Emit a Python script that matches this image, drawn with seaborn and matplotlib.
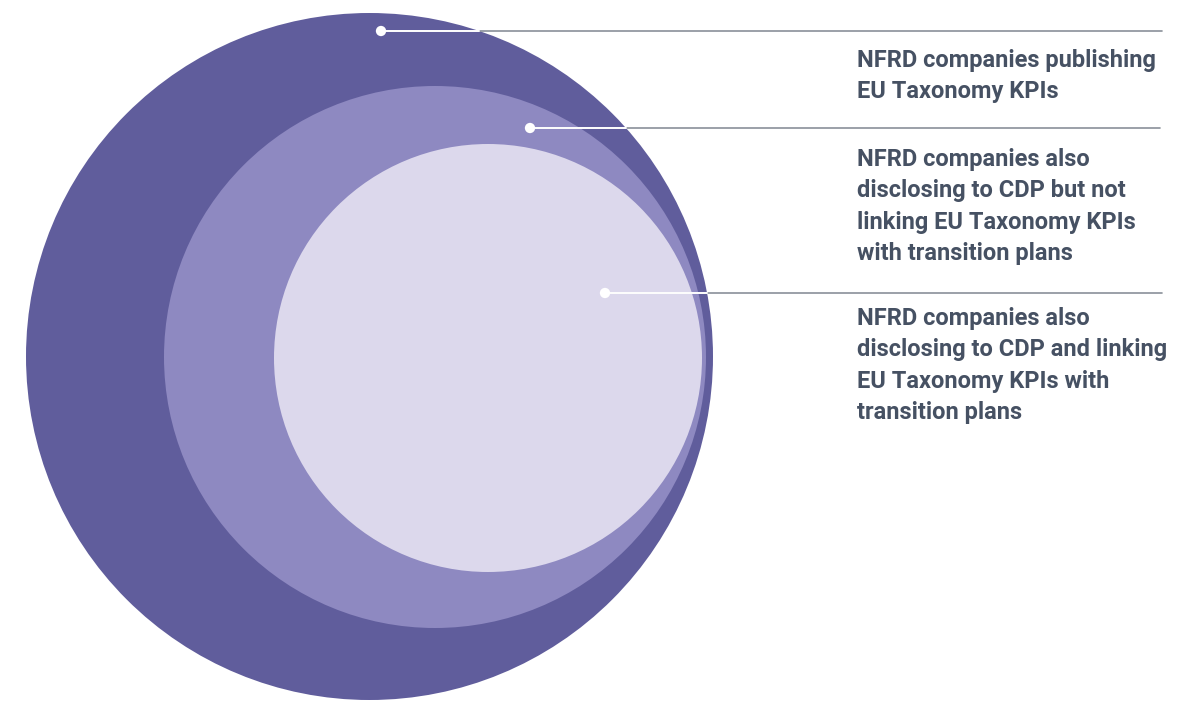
import numpy as np
import pandas as pd
import matplotlib
matplotlib.use("Agg")
import matplotlib.pyplot as plt
import seaborn as sns
from matplotlib.patches import Circle

# nested groups, outermost first
labels = [
    "NFRD companies publishing\nEU Taxonomy KPIs",
    "NFRD companies also\ndisclosing to CDP but not\nlinking EU Taxonomy KPIs\nwith transition plans",
    "NFRD companies also\ndisclosing to CDP and linking\nEU Taxonomy KPIs with\ntransition plans",
]
radii = [343.5, 271, 214]
colors = ["#605d9c", "#8e89c1", "#dcd8ec"]

sns.set_theme(style="white")
plt.rcParams['font.family'] = ['Roboto', 'DejaVu Sans']

fig = plt.figure(figsize=(11.86, 7.01), dpi=100)
ax = fig.add_axes([0, 0, 1, 1])

# circles share the right side, grow to the left
right_edge = 713
right_shift = [0, 7, 11]
cy = [356.5, 357, 358]
centers = []
for r, c, sh, y in zip(radii, colors, right_shift, cy):
    cx = right_edge - sh - r
    centers.append((cx, y))
    ax.add_patch(Circle((cx, y), r, facecolor=c, edgecolor='none', zorder=1))

# leader lines
dots = pd.DataFrame({"x": [381, 530, 605], "y": [31, 128, 293]})
line_end = [1162, 1160, 1162]
ocx, ocy = centers[0]
for i in range(3):
    x0, y0 = dots.x[i], dots.y[i]
    edge = ocx + np.sqrt(radii[0] ** 2 - (y0 - ocy) ** 2)
    ax.plot([x0, line_end[i]], [y0, y0], color="#8a9099", lw=1.2, zorder=2)
    ax.plot([x0, edge], [y0, y0], color="white", lw=1.4, zorder=3)

sns.scatterplot(data=dots, x="x", y="y", color="white", s=55, edgecolor='none',
                zorder=4, ax=ax, legend=False)
ax.set_xlim(0, 1186)
ax.set_ylim(701, 0)
ax.set_aspect('equal')
ax.axis('off')

text_y = [49, 148, 307]
for lab, ty in zip(labels, text_y):
    ax.text(857, ty, lab, fontsize=17, fontweight='bold', color="#465163",
            va='top', ha='left', linespacing=1.47, zorder=5)

plt.savefig("out.png", dpi=100)
